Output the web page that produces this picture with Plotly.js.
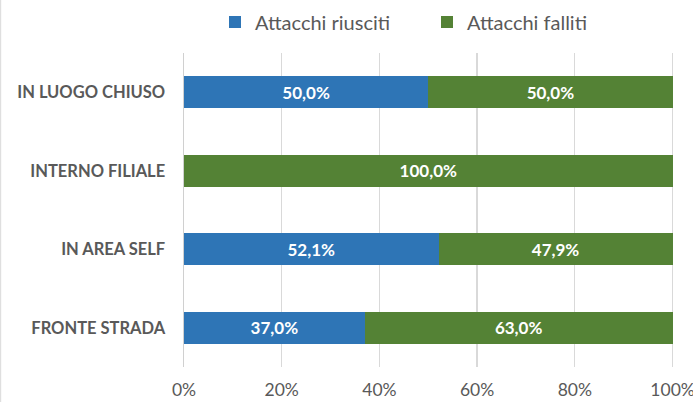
<!DOCTYPE html>
<html><head><meta charset="utf-8">
<script src="https://cdn.plot.ly/plotly-3.0.1.min.js"></script>
<style>body{margin:0;background:#fff}#c{width:693px;height:402px}</style>
</head><body><div id="c"></div>
<script>
const categories = ["FRONTE STRADA", "IN AREA SELF", "INTERNO FILIALE", "IN LUOGO CHIUSO"];
const riusciti = [0.370, 0.521, 0.0, 0.500];
const falliti = [0.630, 0.479, 1.0, 0.500];
const seriesNames = ["Attacchi riusciti", "Attacchi falliti"];
const tickVals = [0, 0.2, 0.4, 0.6, 0.8, 1.0];
const tickText = ["0%", "20%", "40%", "60%", "80%", "100%"];

const fmt = v => v > 0 ? (v * 100).toFixed(1).replace('.', ',') + '%' : '';
const labelFont = {family: 'Lato, "Open Sans", sans-serif', size: 17, color: '#ffffff', weight: 'bold'};

const traces = [
  {type: 'bar', orientation: 'h', name: seriesNames[0], y: categories, x: riusciti,
   marker: {color: '#2E75B6'}, text: riusciti.map(fmt), textposition: 'inside',
   insidetextanchor: 'middle', textfont: labelFont, hoverinfo: 'none', cliponaxis: false},
  {type: 'bar', orientation: 'h', name: seriesNames[1], y: categories, x: falliti,
   marker: {color: '#548235'}, text: falliti.map(fmt), textposition: 'inside',
   insidetextanchor: 'middle', textfont: labelFont, hoverinfo: 'none', cliponaxis: false}
];

const plotW = 489 * 1.005;
const layout = {
  width: 693, height: 402,
  margin: {l: 184, r: 693 - 184 - plotW, t: 53, b: 35, pad: 0},
  barmode: 'stack', bargap: 0.59,
  paper_bgcolor: '#ffffff', plot_bgcolor: '#ffffff',
  font: {family: 'Lato, "Open Sans", sans-serif', color: '#595959'},
  showlegend: true,
  legend: {orientation: 'h', xref: 'container', yref: 'container', x: 427/693, xanchor: 'center',
           y: 1 - 22/402, yanchor: 'middle', entrywidth: 167, entrywidthmode: 'pixels',
           font: {size: 20, color: '#595959'}, traceorder: 'normal', itemwidth: 30},
  xaxis: {range: [0, 1.005], tickvals: tickVals, ticktext: tickText, showgrid: true,
          gridcolor: '#d9d9d9', gridwidth: 1.3, zeroline: false, showline: false,
          tickfont: {size: 17.5, color: '#595959'}, ticks: '', ticklabelstandoff: 10,
          ticklabeloverflow: 'allow', automargin: false, fixedrange: true},
  yaxis: {categoryorder: 'array', categoryarray: categories, showline: true, linecolor: '#d0d0d0',
          linewidth: 1.5, ticks: '', ticklabelstandoff: 14, automargin: false,
          tickfont: {size: 16.5, color: '#595959', weight: 'bold'}, fixedrange: true},
  shapes: [{type: 'line', xref: 'paper', yref: 'paper', x0: -183.5/plotW, x1: -183.5/plotW,
            y0: -35/314, y1: 1 + 53/314, line: {color: '#d9d9d9', width: 1}}],
  uniformtext: {mode: 'show', minsize: 8}
};

Plotly.newPlot('c', traces, layout, {displayModeBar: false, staticPlot: true});
</script></body></html>
